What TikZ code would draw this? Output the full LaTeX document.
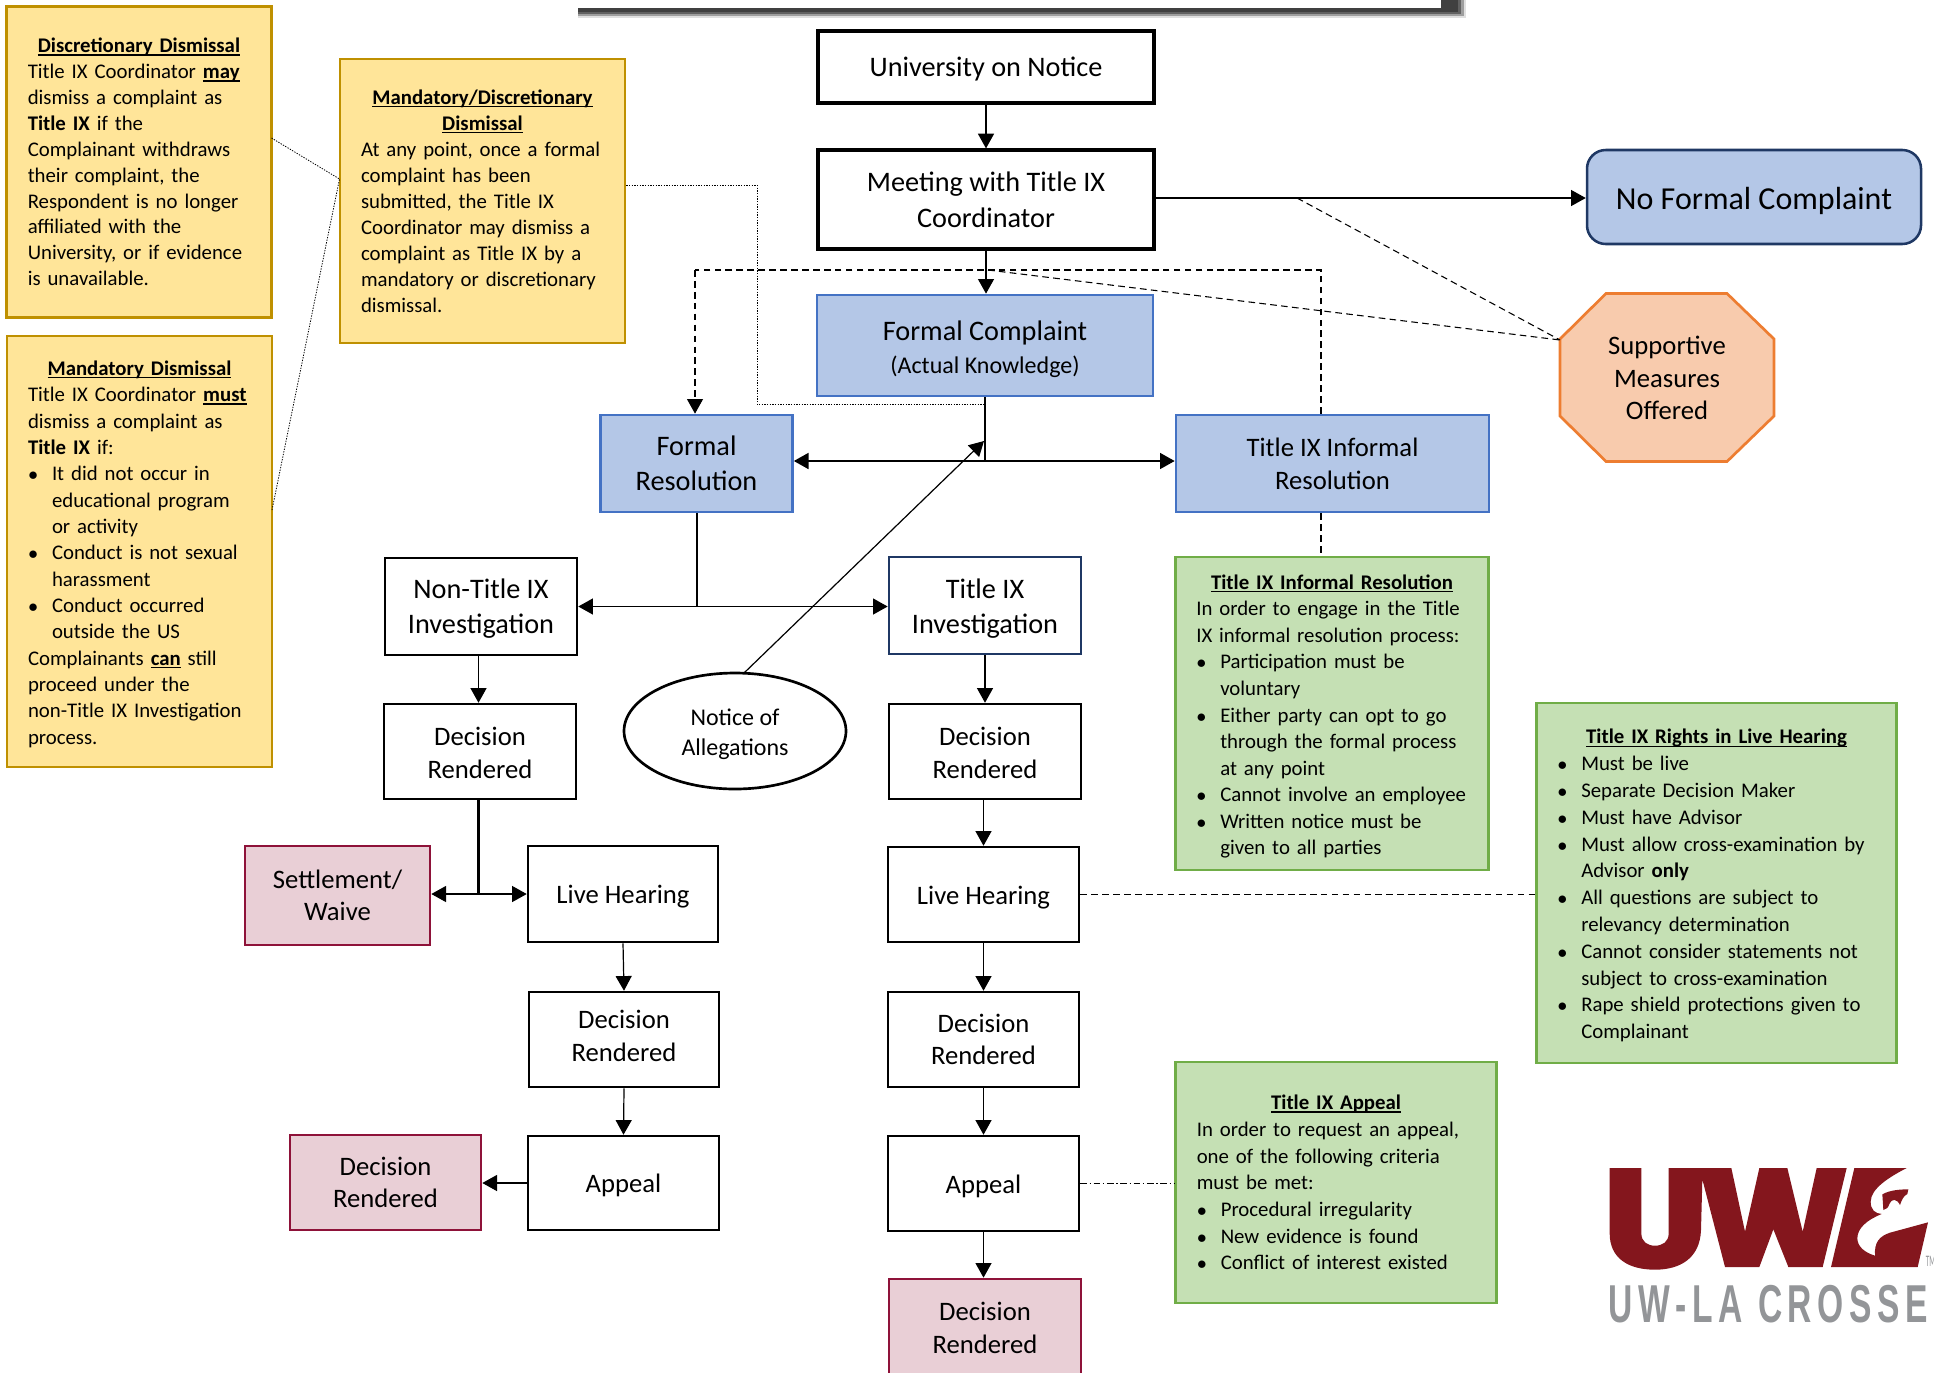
\documentclass[tikz,border=0pt]{standalone}
\usepackage{fontspec}
\setmainfont{Carlito}
\newfontfamily\logofont{Liberation Sans}
\usetikzlibrary{arrows.meta,shapes.geometric}
\definecolor{noteyellow}{HTML}{FFE599}
\definecolor{noteyellowline}{HTML}{BF9000}
\definecolor{stepblue}{HTML}{B4C7E7}
\definecolor{stepblueline}{HTML}{4472C4}
\definecolor{navyline}{HTML}{1F3864}
\definecolor{notegreen}{HTML}{C5E0B4}
\definecolor{notegreenline}{HTML}{70AD47}
\definecolor{endpink}{HTML}{E9CFD6}
\definecolor{endpinkline}{HTML}{8E1239}
\definecolor{signfill}{HTML}{F8CBAD}
\definecolor{signline}{HTML}{ED7D31}
\definecolor{logored}{HTML}{84161D}
\definecolor{logogray}{HTML}{939598}
\newcommand{\underbold}[1]{\leavevmode\setbox0=\hbox{\textbf{#1}}\rlap{\rule[-2.2pt]{\wd0}{1pt}}\box0\relax}
\newcommand{\notetitle}[1]{\makebox[\hsize][c]{\underbold{#1}}}
\newcommand{\bitem}[1]{\makebox[18pt][l]{\hspace*{.3pt}$\bullet$}#1}
\newcommand{\bcont}[1]{\hspace*{18pt}#1}
\newcommand{\lowertext}[1]{\rule{0pt}{#1}}
\tikzset{
	boxsize/.style 2 args={minimum width=#1*.75pt,minimum height=#2*.75pt},
	flowbox/.style={draw=black,line width=1.9pt,fill=white,inner sep=0pt,align=center,font=\fontsize{20}{24.4}\selectfont},
	bluebox/.style={flowbox,draw=stepblueline,fill=stepblue,line width=2pt},
	pinkbox/.style={flowbox,draw=endpinkline,fill=endpink,line width=2pt},
	bigtext/.style={font=\fontsize{21.2}{26}\selectfont},
	oneline/.style={text height=18pt,text depth=3.4pt},
	notebox/.style 2 args={draw,line width=2pt,inner xsep=21*.75pt,inner ysep=0pt,align=left,
		minimum width=#1*.75pt,minimum height=#2*.75pt,text width=(#1-42)*.75pt},
	notelead/.style={font=\fontsize{15.6}{#1}\selectfont},
	yellownote/.style={draw=noteyellowline,fill=noteyellow},
	greennote/.style={draw=notegreenline,fill=notegreen},
	link/.style={line width=.9pt,-{Triangle[length=11pt,width=12pt]}},
	plainlink/.style={line width=.9pt},
	dashlink/.style={line width=.8pt,dash pattern=on 5pt off 3.2pt},
	dotlink/.style={line width=.6pt,dash pattern=on 1pt off 1pt}
}
\begin{document}
\begin{tikzpicture}[x=.75pt,y=-.75pt]
	\useasboundingbox (0,0) rectangle (1934,1372);
	% banner cut off by the top edge
	\fill[black!12] (578,0) rectangle (1466,18);
	\fill[black!38] (578,0) rectangle (1464,16);
	\fill[black!62] (578,0) rectangle (1461,14);
	\fill[black!75] (578,0) rectangle (1458,12);
	\fill[white] (576,0) rectangle (1441,8);

	% flow
	\node[flowbox,line width=2.4pt,font=\fontsize{21.2}{26}\selectfont,oneline,boxsize={336}{72}] (university) at (986,67) {University on Notice};
	\node[flowbox,line width=2.4pt,font=\fontsize{21.2}{27}\selectfont,boxsize={336}{99}] (meeting) at (986,199.5) {Meeting with Title IX\\Coordinator};
	\node[bluebox,bigtext,boxsize={336}{101}] (complaint) at (985,345.5) {\lowertext{20pt}Formal Complaint\\[-1.5pt]{\fontsize{18}{21}\selectfont (Actual Knowledge)}};
	\node[bluebox,bigtext,boxsize={192}{97}] (formal) at (696.5,463.5) {Formal\\Resolution};
	\node[bluebox,font=\fontsize{20}{25}\selectfont,boxsize={313}{97}] (informal) at (1332.5,463.5) {Title IX Informal\\Resolution};
	\node[flowbox,draw=navyline,fill=stepblue,rounded corners=14pt,text height=21.7pt,text depth=3.4pt,boxsize={334}{94},font=\fontsize{24}{28}\selectfont] (noformal) at (1754,197) {No Formal Complaint};
	\draw[draw=signline,fill=signfill,line width=2pt] (1560,339) -- (1606,293.5) -- (1727,293.5) -- (1774,339) -- (1774,416) -- (1727,461.5) -- (1606,461.5) -- (1560,416) -- cycle;
	\node[inner sep=0pt,align=center,font=\fontsize{20}{24.4}\selectfont] (supportive) at (1667,378) {Supportive\\Measures\\Offered};

	\node[flowbox,bigtext,boxsize={192}{97}] (nontitle) at (481,606.5) {\lowertext{18.2pt}Non-Title IX\\Investigation};
	\node[flowbox,bigtext,draw=navyline,line width=2pt,boxsize={192}{97}] (titleinv) at (985,605.5) {\lowertext{19pt}Title IX\\Investigation};
	\node[draw=black,line width=2pt,ellipse,fill=white,inner sep=0pt,align=center,font=\fontsize{18}{22.4}\selectfont,minimum width=222*.75pt,minimum height=116*.75pt] (notice) at (735,731) {\lowertext{17pt}Notice of\\Allegations};

	\node[flowbox,boxsize={192}{95}] (ldecision) at (480,751.5) {\lowertext{15.5pt}Decision\\Rendered};
	\node[flowbox,boxsize={192}{95}] (rdecision) at (985,751.5) {\lowertext{15.5pt}Decision\\Rendered};
	\node[pinkbox,boxsize={185}{99}] (settlement) at (337.5,895.5) {Settlement/\\Waive};
	\node[flowbox,oneline,boxsize={190}{96}] (lhearing) at (623,894) {Live Hearing};
	\node[flowbox,oneline,boxsize={191}{95}] (rhearing) at (983.5,894.5) {Live Hearing};
	\node[flowbox,boxsize={190}{95}] (ldecisionb) at (624,1039.5) {Decision\\Rendered\rule[-5.6pt]{0pt}{1pt}};
	\node[flowbox,boxsize={191}{95}] (rdecisionb) at (983.5,1039.5) {Decision\\Rendered};
	\node[flowbox,oneline,boxsize={191}{94}] (lappeal) at (623.5,1183) {Appeal};
	\node[flowbox,oneline,boxsize={191}{95}] (rappeal) at (983.5,1183.5) {Appeal};
	\node[pinkbox,boxsize={191}{95}] (lfinal) at (385.5,1182.5) {Decision\\Rendered};
	\node[pinkbox,boxsize={192}{96}] (rfinal) at (985,1327) {\lowertext{15.5pt}Decision\\Rendered};

	% notes
	\node[notebox={264.5}{311},yellownote,notelead=19.4] (discretionary) at (139,162) {\notetitle{Discretionary Dismissal}\\
		Title IX Coordinator \underbold{may}\\
		dismiss a complaint as\\
		\textbf{Title IX} if the\\
		Complainant withdraws\\
		their complaint, the\\
		Respondent is no longer\\
		affiliated with the\\
		University, or if evidence\\
		is unavailable.};
	\node[notebox={265}{431},yellownote,notelead=19.76] (mandatory) at (139.5,551.5) {\lowertext{15pt}\notetitle{Mandatory Dismissal}\\
		Title IX Coordinator \underbold{must}\\
		dismiss a complaint as\\
		\textbf{Title IX} if:\\
		\bitem{It did not occur in}\\
		\bcont{educational program}\\
		\bcont{or activity}\\
		\bitem{Conduct is not sexual}\\
		\bcont{harassment}\\
		\bitem{Conduct occurred}\\
		\bcont{outside the US}\\
		Complainants \underbold{can} still\\
		proceed under the\\
		non-Title IX Investigation\\
		process.};
	\node[notebox={285}{284},yellownote,notelead=19.5] (either) at (482.5,201) {\notetitle{Mandatory/Discretionary}\\
		\notetitle{Dismissal}\\
		At any point, once a formal\\
		complaint has been\\
		submitted, the Title IX\\
		Coordinator may dismiss a\\
		complaint as Title IX by a\\
		mandatory or discretionary\\
		dismissal.};
	\node[notebox={313.5}{313},greennote,notelead=19.9] (informalnote) at (1332,713.5) {\lowertext{15.5pt}\notetitle{Title IX Informal Resolution}\\
		In order to engage in the Title\\
		IX informal resolution process:\\
		\bitem{Participation must be}\\
		\bcont{voluntary}\\
		\bitem{Either party can opt to go}\\
		\bcont{through the formal process}\\
		\bcont{at any point}\\
		\bitem{Cannot involve an employee}\\
		\bitem{Written notice must be}\\
		\bcont{given to all parties}};
	\node[notebox={360.5}{360},greennote,notelead=20.1] (rights) at (1716.5,883) {\lowertext{15pt}\notetitle{Title IX Rights in Live Hearing}\\
		\bitem{Must be live}\\
		\bitem{Separate Decision Maker}\\
		\bitem{Must have Advisor}\\
		\bitem{Must allow cross-examination by}\\
		\bcont{Advisor \textbf{only}}\\
		\bitem{All questions are subject to}\\
		\bcont{relevancy determination}\\
		\bitem{Cannot consider statements not}\\
		\bcont{subject to cross-examination}\\
		\bitem{Rape shield protections given to}\\
		\bcont{Complainant}};
	\node[notebox={320.5}{241},greennote,notelead=20] (appealnote) at (1336,1182.5) {\notetitle{Title IX Appeal}\\
		In order to request an appeal,\\
		one of the following criteria\\
		must be met:\\
		\bitem{Procedural irregularity}\\
		\bitem{New evidence is found}\\
		\bitem{Conflict of interest existed}};

	% helper points
	\coordinate (dashleft) at (695,270);
	\coordinate (dashright) at (1321,270);
	\coordinate (dashmid) at (988,270);
	\coordinate (supcorner) at (1560,340);
	\coordinate (nfsplit) at (1297,198);
	\coordinate (complaintjoin) at (985,461);
	\coordinate (formaljoin) at (697,606.5);
	\coordinate (ldecisionjoin) at (478.5,894);
	\coordinate (noticestart) at (744,673);
	\coordinate (noticetip) at (984,441);
	\coordinate (dotcorner) at (757,185);
	\coordinate (dotback) at (757,404.5);
	\coordinate (dotend) at (985,404.5);
	\coordinate (leftpinch) at (339.5,179);
	\coordinate (discstart) at (271.5,138);
	\coordinate (mandstart) at (272,510);

	% connectors
	\draw[link] (university.south) -- (meeting.north);
	\draw[link] (meeting.south) -- (meeting.south |- complaint.north);
	\draw[link] (meeting.east |- nfsplit) -- (noformal.west |- nfsplit);
	\draw[line width=1.6pt] (complaint.south) -- (complaintjoin);
	\draw[link,line width=1.2pt] (complaintjoin) -- (complaintjoin -| formal.east);
	\draw[link,line width=1.2pt] (complaintjoin) -- (complaintjoin -| informal.west);
	\draw[link] (noticestart) -- (noticetip);
	\draw[plainlink] (formal.south -| formaljoin) -- (formaljoin);
	\draw[link] (formaljoin) -- (formaljoin -| nontitle.east);
	\draw[link] (formaljoin) -- (formaljoin -| titleinv.west);
	\draw[link] (nontitle.south -| ldecisionjoin) -- (ldecision.north -| ldecisionjoin);
	\draw[link] (titleinv.south) -- (rdecision.north);
	\draw[line width=1.8pt] (ldecision.south -| ldecisionjoin) -- (ldecisionjoin);
	\draw[link] (ldecisionjoin) -- (settlement.east |- ldecisionjoin);
	\draw[link] (ldecisionjoin) -- (lhearing.west);
	\draw[link] (rdecision.south -| rhearing.north) -- (rhearing.north);
	\draw[link] (lhearing.south) -- (ldecisionb.north);
	\draw[link] (rhearing.south) -- (rdecisionb.north);
	\draw[link] (ldecisionb.south) -- (lappeal.north);
	\draw[link] (rdecisionb.south) -- (rappeal.north);
	\draw[link] (lappeal.west) -- (lfinal.east |- lappeal.west);
	\draw[link] (rappeal.south) -- (rappeal.south |- rfinal.north);

	\draw[dashlink] (dashright |- informal.north) -- (dashright) -- (dashleft);
	\draw[dashlink,-{Triangle[length=11pt,width=12pt]}] (dashleft) -- (dashleft |- formal.north);
	\draw[dashlink] (dashright |- informal.south) -- (dashright |- informalnote.north);
	\draw[dashlink] (dashmid) -- (supcorner);
	\draw[dashlink] (nfsplit) -- (supcorner);
	\draw[dashlink] (rhearing.east) -- (rights.west |- rhearing.east);
	\draw[line width=.5pt,dash pattern=on 5pt off 2pt on 1pt off 2pt] (rappeal.east) -- (appealnote.west |- rappeal.east);
	\draw[dotlink] (either.east |- dotcorner) -- (dotcorner) -- (dotback) -- (dotend);
	\draw[dotlink] (discstart) -- (leftpinch);
	\draw[dotlink] (mandstart) -- (leftpinch);

	% logo
	\begin{scope}[shift={(1500,1130)},x=.25pt,y=-.25pt]
		\fill[logored] (329,114) -- (424,114) -- (424,310) .. controls (424,335) and (442,347) .. (465,347) .. controls (488,347) and (506,335) .. (506,310)
			-- (506,114) -- (694,114) -- (735,305) -- (778,114) -- (862,114) -- (908,305) -- (950,114) -- (1040,114) -- (968,411) -- (865,411) -- (820,298) -- (778,411) -- (675,411) -- (607,148) -- (603,300)
			.. controls (600,385) and (540,419) .. (465,419) .. controls (385,419) and (329,385) .. (329,310) -- cycle;
		\fill[logored] (1063,114) -- (1220,114) .. controls (1170,140) and (1112,175) .. (1112,215) .. controls (1112,240) and (1125,250) .. (1145,252)
			.. controls (1100,270) and (1072,295) .. (1072,325) .. controls (1072,350) and (1095,368) .. (1125,377)
			.. controls (1122,335) and (1140,318) .. (1170,308) -- (1284,277) -- (1253,411) -- (993,411) -- cycle;
		\fill[logored] (1147,193) .. controls (1170,180) and (1200,178) .. (1225,178) -- (1222,192) .. controls (1210,198) and (1205,210) .. (1200,225)
			.. controls (1190,205) and (1175,205) .. (1168,222) .. controls (1165,232) and (1160,238) .. (1150,240) -- cycle;
		\node[anchor=center,inner sep=0pt,text=logogray,xscale=.63,font=\logofont\bfseries\fontsize{40}{40}\selectfont] (lacrosse) at (805,523) {U\,W\,-\,L\,A \,C\,R\,O\,S\,S\,E};
		\node[anchor=west,inner sep=0pt,text=logogray,xscale=.45,font=\fontsize{12}{12}\selectfont] (trademark) at (1277,395) {TM};
	\end{scope}
\end{tikzpicture}
\end{document}
